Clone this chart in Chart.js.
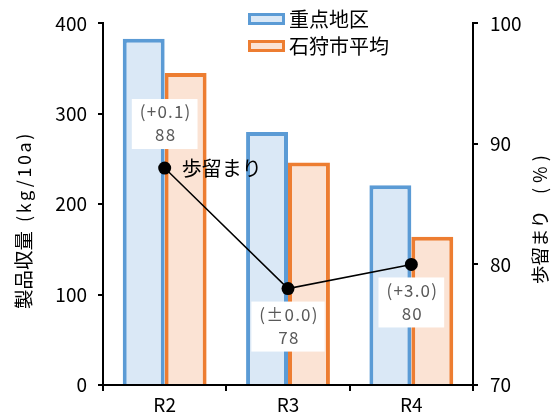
<!DOCTYPE html>
<html>
<head>
<meta charset="utf-8">
<script src="https://cdn.jsdelivr.net/npm/chart.js@4/dist/chart.umd.min.js"></script>
<style>
  html, body { margin: 0; padding: 0; background: #fff; }
  #wrap { width: 557px; height: 417px; }
</style>
</head>
<body>
<div id="wrap"><canvas id="c" width="557" height="417"></canvas></div>
<script>
// 年度
const years = ['R2', 'R3', 'R4'];
// 製品収量 (kg/10a)
const yieldFocus = [383, 280, 221];
const yieldCity = [345, 246, 164];
// 歩留まり (%) と前年差
const ratio = [88, 78, 80];
const ratioDiff = ['(+0.1)', '(±0.0)', '(+3.0)'];
const ratioLabelSide = ['top', 'bottom', 'bottom'];
// 軸目盛
const leftTicks = [0, 100, 200, 300, 400];
const rightTicks = [70, 80, 90, 100];

const seriesNames = ['重点地区', '石狩市平均', '歩留まり'];
const leftTitle = ['製品収量', '(kg/10a)'];
const rightTitle = ['歩留まり', '(%)'];

const JP = '"Noto Sans CJK JP", "Noto Sans", sans-serif';

// 縦書き（下から上）の文字列を描く
function drawUp(ctx, text, x, y, size, spacing) {
  ctx.save();
  ctx.translate(x, y);
  ctx.rotate(-Math.PI / 2);
  ctx.font = size + 'px ' + JP;
  ctx.letterSpacing = spacing + 'px';
  ctx.fillStyle = '#000';
  ctx.textAlign = 'left';
  ctx.textBaseline = 'middle';
  ctx.fillText(text, 0, 0);
  ctx.restore();
}

// 凡例・軸タイトル・データラベル
const decor = {
  id: 'decor',
  afterDatasetsDraw(chart) {
    const ctx = chart.ctx;
    const meta = chart.getDatasetMeta(2);
    ctx.save();
    ctx.font = '17px ' + JP;
    ctx.letterSpacing = '1.2px';
    meta.data.forEach((pt, i) => {
      const l1 = ratioDiff[i];
      const l2 = String(ratio[i]);
      const w = Math.max(ctx.measureText(l1).width, ctx.measureText(l2).width) + 14;
      const h = 50;
      const top = ratioLabelSide[i] === 'top' ? pt.y - 19 - h : pt.y + 13;
      ctx.fillStyle = '#ffffff';
      ctx.fillRect(pt.x - w / 2, top, w, h);
      ctx.fillStyle = '#595959';
      ctx.textAlign = 'center';
      ctx.textBaseline = 'middle';
      ctx.fillText(l1, pt.x + 1, top + 13);
      ctx.fillText(l2, pt.x + 1, top + 36);
    });
    ctx.letterSpacing = '0px';
    // 系列名ラベル
    const p0 = meta.data[0];
    ctx.font = '20px ' + JP;
    ctx.fillStyle = '#000';
    ctx.textAlign = 'left';
    ctx.textBaseline = 'middle';
    ctx.fillText(seriesNames[2], p0.x + 17, p0.y);
    ctx.restore();
  },
  afterDraw(chart) {
    const ctx = chart.ctx;
    ctx.save();
    // 凡例
    const items = [0, 1].map(i => chart.data.datasets[i]);
    items.forEach((ds, i) => {
      const y = 13 + i * 27;
      ctx.fillStyle = ds.backgroundColor;
      ctx.fillRect(248, y, 37, 12);
      ctx.strokeStyle = ds.borderColor;
      ctx.lineWidth = 3;
      ctx.strokeRect(249.5, y + 1.5, 34, 9);
      ctx.fillStyle = '#000';
      ctx.font = '20px ' + JP;
      ctx.textAlign = 'left';
      ctx.textBaseline = 'middle';
      ctx.fillText(ds.label, 289, y + 6);
    });
    ctx.restore();
    // 軸タイトル
    drawUp(ctx, leftTitle[0], 24, 309, 19.5, 0);
    drawUp(ctx, leftTitle[1], 24, 222, 18, 2.6);
    drawUp(ctx, rightTitle[0], 540, 284, 18.5, 0);
    drawUp(ctx, rightTitle[1], 540, 194, 18, 5);
  }
};

const tickFont = { family: JP, size: 19 };

new Chart(document.getElementById('c'), {
  data: {
    labels: years,
    datasets: [
      {
        type: 'bar',
        label: seriesNames[0],
        data: yieldFocus,
        backgroundColor: '#DAE8F6',
        borderColor: '#5B9BD5',
        borderWidth: 4,
        yAxisID: 'y',
        order: 1,
        categoryPercentage: 0.68,
        barPercentage: 1.0
      },
      {
        type: 'bar',
        label: seriesNames[1],
        data: yieldCity,
        backgroundColor: '#FBE3D4',
        borderColor: '#ED7D31',
        borderWidth: 4,
        yAxisID: 'y',
        order: 1,
        categoryPercentage: 0.68,
        barPercentage: 1.0
      },
      {
        type: 'line',
        label: seriesNames[2],
        data: ratio,
        borderColor: '#000',
        backgroundColor: '#000',
        borderWidth: 1.5,
        pointRadius: 6.5,
        pointBackgroundColor: '#000',
        pointBorderWidth: 0,
        yAxisID: 'y1',
        order: 0
      }
    ]
  },
  options: {
    responsive: false,
    animation: false,
    devicePixelRatio: 1,
    layout: { padding: { top: 22, left: 0, right: 0, bottom: 0 } },
    plugins: { legend: { display: false }, tooltip: { enabled: false } },
    scales: {
      x: {
        offset: true,
        grid: { offset: true, drawOnChartArea: false, drawTicks: true, tickLength: 6, color: '#000', lineWidth: 2 },
        border: { color: '#000', width: 2 },
        ticks: { color: '#000', font: tickFont, padding: 2 },
        afterFit(s) { s.height = 32; }
      },
      y: {
        position: 'left',
        min: 0, max: 400,
        afterBuildTicks(s) { s.ticks = leftTicks.map(v => ({ value: v })); },
        grid: { drawOnChartArea: false, drawTicks: true, tickLength: 5, color: '#000', lineWidth: 2 },
        border: { color: '#000', width: 2 },
        ticks: { color: '#000', font: tickFont, padding: 11 },
        afterFit(s) { s.width = 103; }
      },
      y1: {
        position: 'right',
        min: 70, max: 100,
        afterBuildTicks(s) { s.ticks = rightTicks.map(v => ({ value: v })); },
        grid: { drawOnChartArea: false, drawTicks: true, tickLength: 5, color: '#000', lineWidth: 2 },
        border: { color: '#000', width: 2 },
        ticks: { color: '#000', font: tickFont, padding: 12 },
        afterFit(s) { s.width = 84; }
      }
    }
  },
  plugins: [decor]
});
</script>
</body>
</html>
